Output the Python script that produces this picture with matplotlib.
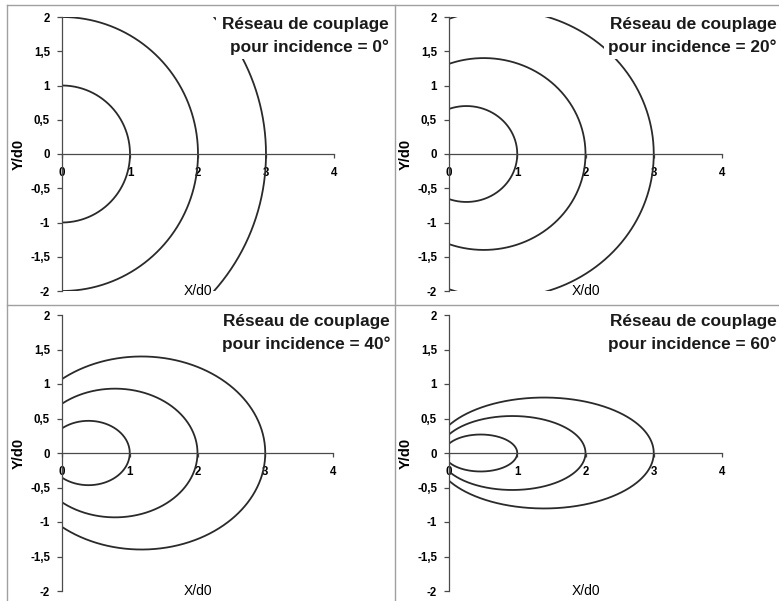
import numpy as np
import matplotlib
matplotlib.use("Agg")
import matplotlib.pyplot as plt
from matplotlib.lines import Line2D

# ---- data ----
incidence_deg = [0, 20, 40, 60]          # incidence angle of each panel
orders = [1, 2, 3]                        # curve crossing the x axis at X/d0 = 1, 2, 3
x_ticks = [0, 1, 2, 3, 4]
x_ticklabels = ["0", "1", "2", "3", "4"]
y_ticks = [-2, -1.5, -1, -0.5, 0, 0.5, 1, 1.5, 2]
y_ticklabels = ["-2", "-1,5", "-1", "-0,5", "0", "0,5", "1", "1,5", "2"]
title_line1 = "Réseau de couplage"
title_line2 = ["pour incidence = 0°", "pour incidence = 20°",
               "pour incidence = 40°", "pour incidence = 60°"]

W, H = 779, 601
plt.rcParams['font.family'] = ['Liberation Sans', 'DejaVu Sans']
fig = plt.figure(figsize=(W / 100, H / 100), dpi=100)
fig.patch.set_facecolor('white')

def fx(px):
    return px / W

def fy(py):
    return 1 - py / H

# axes pixel boxes: left, right, top, bottom
boxes = [(62, 334, 17, 291), (449, 722, 17, 291),
         (62, 333, 315, 591), (449, 722, 315, 591)]
title_right = [389, 777, 390, 777]
title_base = [29, 29, 326, 326]

curve_color = '#2a2a2a'
axis_color = '#4a4a4a'

# panel separator lines (drawn above the title boxes)
border_color = '#a0a0a0'
for xp in (7, 395):
    fig.add_artist(Line2D([fx(xp), fx(xp)], [0, fy(5)], color=border_color, lw=1.0,
                          zorder=20))
for yp in (5, 305):
    fig.add_artist(Line2D([fx(7), 1], [fy(yp), fy(yp)], color=border_color, lw=1.0,
                          zorder=20))

phi = np.linspace(-np.pi, np.pi, 1441)
for i, (theta, box) in enumerate(zip(incidence_deg, boxes)):
    l, r, t, b = box
    ax = fig.add_axes([fx(l), fy(b), (r - l) / W, (b - t) / H])
    ax.set_facecolor('none')
    e = np.sin(np.radians(theta))
    for n in orders:
        rad = n * (1 - e) / (1 - e * np.cos(phi))
        ax.plot(rad * np.cos(phi), rad * np.sin(phi), color=curve_color, lw=1.3)
    ax.set_xlim(0, 4)
    ax.set_ylim(-2, 2)
    for s in ('top', 'right'):
        ax.spines[s].set_visible(False)
    ax.spines['bottom'].set_position(('data', 0))
    ax.spines['bottom'].set_color(axis_color)
    ax.spines['left'].set_color(axis_color)
    ax.spines['bottom'].set_linewidth(0.9)
    ax.spines['left'].set_linewidth(0.9)
    ax.set_xticks(x_ticks)
    ax.set_xticklabels(x_ticklabels)
    ax.set_yticks(y_ticks)
    ax.set_yticklabels(y_ticklabels)
    ax.tick_params(axis='x', direction='out', length=3, width=0.9, color=axis_color,
                   pad=6.5, labelsize=8.3)
    ax.tick_params(axis='y', direction='out', length=3.6, width=0.9, color=axis_color,
                   pad=5, labelsize=8.3)
    for lab in ax.get_xticklabels() + ax.get_yticklabels():
        lab.set_fontweight('bold')
    ax.text(0.5, 0.0, "X/d0", transform=ax.transAxes, ha='center', va='center',
            fontsize=10)
    ax.text(-43 / (r - l), 0.5, "Y/d0", transform=ax.transAxes, ha='center',
            va='center', rotation=90, fontsize=10.5, fontweight='bold')

    # title (white background hides curves behind it)
    xr = fx(title_right[i])
    fig.text(xr, fy(title_base[i]), title_line1, ha='right', va='baseline',
             fontsize=12.4, fontweight='bold', color='#1a1a1a', zorder=10,
             bbox=dict(boxstyle='square,pad=0.35', fc='white', ec='none'))
    fig.text(xr, fy(title_base[i] + 23), title_line2[i], ha='right', va='baseline',
             fontsize=12.4, fontweight='bold', color='#1a1a1a', zorder=10,
             bbox=dict(boxstyle='square,pad=0.25', fc='white', ec='none'))

fig.savefig("out.png", dpi=100)
